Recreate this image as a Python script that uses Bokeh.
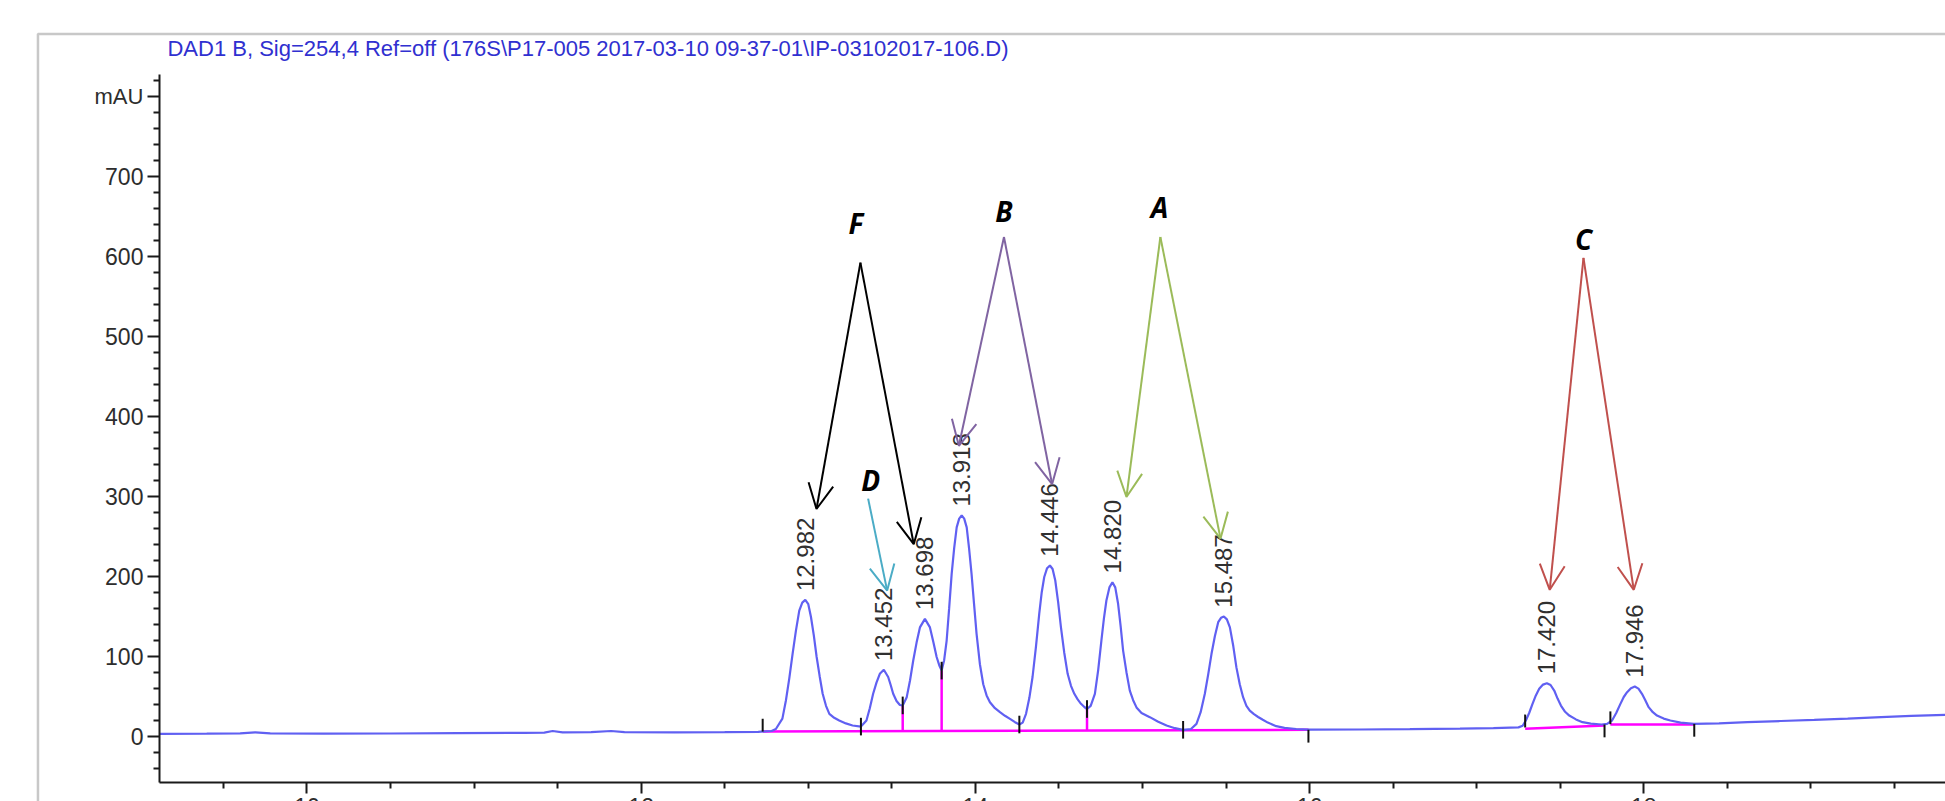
import numpy as np
from bokeh.plotting import figure
from bokeh.models import Range1d, FixedTicker, Label, Arrow, OpenHead, BoxAnnotation, LinearAxis
from bokeh.core.properties import value
from bokeh.embed import file_html
from bokeh.resources import INLINE

# ---------------- data ----------------
title_text = "DAD1 B, Sig=254,4 Ref=off (176S\\P17-005 2017-03-10 09-37-01\\IP-03102017-106.D)"
y_unit = "mAU"

x_major = [10, 12, 14, 16, 18]
x_minor = [9.5, 10.5, 11, 11.5, 12.5, 13, 13.5, 14.5, 15, 15.5, 16.5, 17, 17.5, 18.5, 19, 19.5]
y_major = [0, 100, 200, 300, 400, 500, 600, 700]
y_unit_tick = [800]
y_minor = [-40, -20] + [v for v in range(20, 821, 20) if v % 100 != 0]

# chromatogram trace (time in min, signal in mAU)
trace_t = [9.117, 9.40, 9.60, 9.69, 9.78, 10.10, 10.50, 10.90, 11.30, 11.42, 11.47, 11.53, 11.70, 11.82,
           11.90, 12.20, 12.50, 12.70, 12.78,
           12.806, 12.845, 12.866, 12.886, 12.906, 12.926, 12.946, 12.964, 12.982, 13.000, 13.016, 13.033,
           13.050, 13.068, 13.086, 13.106, 13.126, 13.155, 13.185, 13.225, 13.265, 13.315,
           13.348, 13.368, 13.388, 13.408, 13.428, 13.452, 13.478, 13.493, 13.508, 13.528, 13.548, 13.565,
           13.589, 13.609, 13.628, 13.648, 13.668, 13.698, 13.728, 13.748, 13.768, 13.785, 13.798,
           13.813, 13.828, 13.843, 13.858, 13.873, 13.888, 13.903, 13.918, 13.933, 13.948, 13.962, 13.977,
           13.992, 14.007, 14.027, 14.047, 14.067, 14.087, 14.117, 14.147, 14.177, 14.207, 14.237, 14.263,
           14.283, 14.303, 14.323, 14.342, 14.362, 14.382, 14.397, 14.412, 14.429, 14.446, 14.462, 14.478,
           14.495, 14.512, 14.532, 14.552, 14.572, 14.592, 14.612, 14.632, 14.652, 14.668,
           14.690, 14.715, 14.735, 14.754, 14.769, 14.784, 14.802, 14.820, 14.837, 14.854, 14.869, 14.884,
           14.904, 14.924, 14.944, 14.964, 14.994, 15.044, 15.094, 15.144, 15.194, 15.243,
           15.290, 15.323, 15.348, 15.373, 15.393, 15.413, 15.433, 15.453, 15.470, 15.487, 15.505, 15.523,
           15.543, 15.562, 15.582, 15.602, 15.622, 15.642, 15.667, 15.692, 15.720, 15.750, 15.800, 15.850,
           15.920, 16.000,
           16.30, 16.60, 16.90, 17.10, 17.25,
           17.275, 17.294, 17.314, 17.334, 17.354, 17.374, 17.397, 17.420, 17.442, 17.464, 17.484, 17.504,
           17.529, 17.554, 17.594, 17.633, 17.683, 17.747,
           17.780, 17.810, 17.835, 17.860, 17.880, 17.900, 17.923, 17.946, 17.968, 17.989, 18.009, 18.029,
           18.054, 18.079, 18.119, 18.159, 18.220, 18.300, 18.450, 18.620, 18.820, 19.020, 19.220, 19.420,
           19.600, 19.806]
trace_v = [3.0, 3.2, 3.5, 4.8, 3.5, 3.2, 3.4, 3.8, 4.2, 4.5, 6.5, 4.8, 5.0, 6.5,
           5.2, 4.8, 5.0, 5.5, 6.5,
           9, 22, 44.6, 72, 103, 132, 157, 167, 170.4, 165, 149, 126,
           99, 75, 53, 38, 28, 23, 19.6, 16, 13.4, 12,
           19.6, 35, 53, 67, 78, 83, 74, 64, 53, 44, 39, 38.5,
           48.8, 70, 94.6, 117, 136, 146.7, 136, 118, 99, 88, 82,
           95, 119.6, 160, 203, 235, 261, 272, 276, 272, 261, 235, 203,
           165, 128, 90, 65, 51, 42.5, 35, 30, 25.5, 21.7, 17.5, 14.6,
           17, 28, 48, 74, 111, 153, 180, 199, 210, 213.4, 209, 194.6,
           168, 136, 104, 78, 63, 53, 46, 40.5, 36.5, 34,
           38, 53, 83, 119.6, 147, 169.6, 186, 192.5, 186, 165.5, 138, 107,
           80, 57, 45, 36, 29, 23.8, 18, 13.4, 10, 8,
           9, 15.4, 30, 53, 77, 103, 125, 142.5, 148, 149.6, 146, 136,
           113, 86, 65, 48.8, 38, 32, 27.5, 24, 20.5, 17, 12.5, 10.5,
           9, 8.2,
           8.4, 8.8, 9.5, 10.2, 11.0,
           13, 19.6, 29, 40.4, 51, 59.2, 64.5, 66.3, 64, 57.1, 47, 38.3,
           30.5, 25.8, 21, 17.5, 15.8, 14.6,
           15.5, 19.6, 29, 40.4, 49, 55, 60, 62.1, 59.5, 53, 45, 36.3,
           30, 25.8, 22, 19.6, 17, 15.4, 16, 17.5, 19, 20.4, 22, 23.8,
           25.3, 26.7]

# peak table
peak_rt = [12.982, 13.452, 13.698, 13.918, 14.446, 14.820, 15.487, 17.420, 17.946]
peak_height = [170.4, 83.0, 146.7, 276.0, 213.4, 192.5, 149.6, 66.3, 62.1]
peak_label = ["12.982", "13.452", "13.698", "13.918", "14.446", "14.820", "15.487", "17.420", "17.946"]

# integration baselines (t0, v0, t1, v1)
base_t0 = [12.727, 17.290, 17.800]
base_v0 = [5.8, 9.2, 14.6]
base_t1 = [15.993, 17.765, 18.302]
base_v1 = [8.0, 13.4, 14.6]

# drop lines at valleys
drop_t = [13.565, 13.798, 14.668]
drop_lo = [6.1, 6.3, 6.9]
drop_hi = [38.5, 82.0, 34.0]

# integration event ticks: time, signal, kind (0 = start, above; 1 = valley, centred; 2 = end, below)
event_t = [12.727, 13.315, 13.565, 13.798, 14.263, 14.668, 15.243, 15.993, 17.290, 17.765, 17.800, 18.302]
event_v = [5.8, 12.0, 38.5, 82.0, 14.6, 34.0, 8.0, 8.0, 11.0, 14.6, 15.0, 15.4]
event_kind = [0, 1, 1, 1, 1, 1, 1, 2, 0, 2, 0, 2]

# annotation arrows
grp_letter = ["F", "B", "A", "C"]
grp_color = ["#000000", "#8064A2", "#9BBB59", "#C0504D"]
grp_letter_t = [13.285, 14.171, 15.102, 17.639]
grp_letter_v = [642, 657, 662, 621]
grp_apex_t = [13.312, 14.171, 15.107, 17.639]
grp_apex_v = [592, 624, 624, 598]
grp_tip1_t = [13.049, 13.901, 14.904, 17.437]
grp_tip1_v = [284, 363, 299, 183]
grp_tip2_t = [13.631, 14.459, 15.467, 17.940]
grp_tip2_v = [240, 315, 247, 183]

d_letter = "D"
d_color = "#4BACC6"
d_letter_tv = (13.374, 320)
d_start_tv = (13.358, 297)
d_tip_tv = (13.472, 182)

# ---------------- figure ----------------
FONT = "Liberation Sans"
X_LO, X_HI = 8.1658, 19.8055          # whole canvas width
Y_LO, Y_HI = -81.625, 919.625         # whole canvas height
AX_X0, AX_Y0, AX_Y1 = 9.117, -57.9, 827.0

p = figure(width=1945, height=801, x_range=Range1d(X_LO, X_HI), y_range=Range1d(Y_LO, Y_HI),
           output_backend="svg", toolbar_location=None)
p.min_border = 0
p.min_border_left = 0
p.min_border_right = 0
p.min_border_top = 0
p.min_border_bottom = 0
p.xgrid.visible = False
p.ygrid.visible = False
p.outline_line_color = None
p.background_fill_color = "white"
p.border_fill_color = "white"

AX_COL = "#1a1a1a"
LBL_COL = "#2d2d2d"

# x axis
xa = p.xaxis[0]
xa.fixed_location = AX_Y0
xa.bounds = (AX_X0, X_HI + 1)
xa.ticker = FixedTicker(ticks=x_major, minor_ticks=x_minor)
xa.axis_line_color = AX_COL
xa.axis_line_width = 2
xa.major_tick_line_color = AX_COL
xa.major_tick_line_width = 2
xa.major_tick_out = 11
xa.major_tick_in = 0
xa.minor_tick_line_color = AX_COL
xa.minor_tick_line_width = 2
xa.minor_tick_out = 6
xa.minor_tick_in = 0
xa.major_label_standoff = 4
xa.major_label_text_font = FONT
xa.major_label_text_font_size = "23px"
xa.major_label_text_color = LBL_COL

# y axis
ya = p.yaxis[0]
ya.fixed_location = AX_X0
ya.bounds = (AX_Y0, AX_Y1)
ya.ticker = FixedTicker(ticks=y_major, minor_ticks=y_minor)
ya.axis_line_color = AX_COL
ya.axis_line_width = 2
ya.major_tick_line_color = AX_COL
ya.major_tick_line_width = 2
ya.major_tick_out = 12
ya.major_tick_in = 0
ya.minor_tick_line_color = AX_COL
ya.minor_tick_line_width = 2
ya.minor_tick_out = 6
ya.minor_tick_in = 0
ya.major_label_standoff = 4
ya.major_label_text_font = FONT
ya.major_label_text_font_size = "23px"
ya.major_label_text_color = LBL_COL

# unit tick (800 mAU), labelled with the unit, text sitting on the tick
ua = LinearAxis(fixed_location=AX_X0, ticker=FixedTicker(ticks=y_unit_tick, minor_ticks=[]),
                major_label_overrides={y_unit_tick[0]: y_unit})
ua.axis_line_color = None
ua.major_tick_line_color = AX_COL
ua.major_tick_line_width = 2
ua.major_tick_out = 12
ua.major_tick_in = 0
ua.minor_tick_line_color = None
ua.major_label_standoff = 4
ua.major_label_text_font = FONT
ua.major_label_text_font_size = "22px"
ua.major_label_text_color = LBL_COL
ua.major_label_text_baseline = "alphabetic"
p.add_layout(ua, "left")

# outer frame box
p.add_layout(BoxAnnotation(left=8.390, right=40, top=877.75, bottom=-400,
                           fill_alpha=0, line_color="#4a4a4a", line_width=2.5, level="overlay"))

# title
p.add_layout(Label(x=9.165, y=860.2, text=title_text, text_font=FONT, text_font_size="22px",
                   text_color="#3030d0", text_align="left", text_baseline="middle"))

# integration baselines
p.segment(x0=base_t0, y0=base_v0, x1=base_t1, y1=base_v1, line_color="#ff00ff", line_width=2.5)
p.segment(x0=drop_t, y0=drop_lo, x1=drop_t, y1=drop_hi, line_color="#ff00ff", line_width=2.5)

# trace
p.line(trace_t, trace_v, line_color="#6060f2", line_width=2.2)

# event ticks
tick_len = 16.0
ev_lo, ev_hi = [], []
for v, k in zip(event_v, event_kind):
    if k == 0:
        ev_lo.append(v); ev_hi.append(v + tick_len)
    elif k == 2:
        ev_lo.append(v - tick_len); ev_hi.append(v)
    else:
        ev_lo.append(v - tick_len / 2 - 3); ev_hi.append(v + tick_len / 2 + 3)
p.segment(x0=event_t, y0=ev_lo, x1=event_t, y1=ev_hi, line_color="#111111", line_width=2)

# peak labels
p.text(x=peak_rt, y=[h + 11 for h in peak_height], text=peak_label, angle=np.pi / 2,
       text_align="left", text_baseline="middle", text_font=value(FONT), text_font_size="24px",
       text_color="#303030")

# arrows and letters
LFONT = "Open Sans"
for L, c, lt, lv, at, av, t1, v1, t2, v2 in zip(grp_letter, grp_color, grp_letter_t, grp_letter_v,
                                                grp_apex_t, grp_apex_v, grp_tip1_t, grp_tip1_v,
                                                grp_tip2_t, grp_tip2_v):
    for tt, vv in ((t1, v1), (t2, v2)):
        p.add_layout(Arrow(x_start=at, y_start=av, x_end=tt, y_end=vv, line_color=c, line_width=2,
                           end=OpenHead(size=25, line_color=c, line_width=2)))
    p.add_layout(Label(x=lt, y=lv, text=L, text_font=LFONT, text_font_style="bold italic",
                       text_font_size="28px", text_color="#000000", text_align="center",
                       text_baseline="middle"))

p.add_layout(Arrow(x_start=d_start_tv[0], y_start=d_start_tv[1], x_end=d_tip_tv[0], y_end=d_tip_tv[1],
                   line_color=d_color, line_width=2, end=OpenHead(size=25, line_color=d_color, line_width=2)))
p.add_layout(Label(x=d_letter_tv[0], y=d_letter_tv[1], text=d_letter, text_font=LFONT,
                   text_font_style="bold italic", text_font_size="28px", text_color="#000000",
                   text_align="center", text_baseline="middle"))

open("out.html", "w").write(file_html(p, INLINE))
